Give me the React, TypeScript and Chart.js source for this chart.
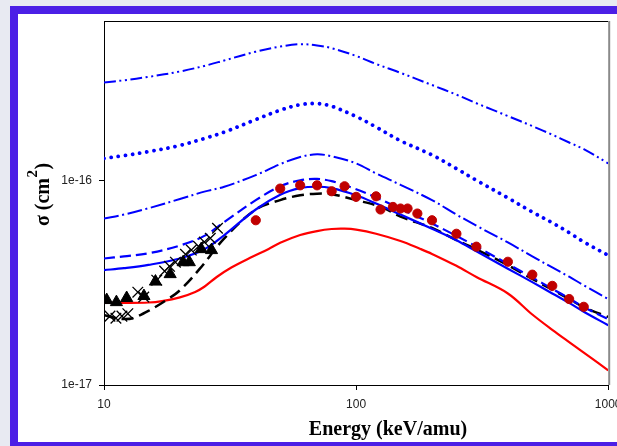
import React, { useEffect, useRef } from "react";
import { Chart, registerables } from "chart.js";

Chart.register(...registerables);

// Cross sections are listed in units of 1e-16 cm^2; energies in keV/amu.
const UNIT = 1e-16;

const curveEnergies = [10, 12, 15, 20, 25, 30, 40, 50, 60, 70, 80, 100, 120, 150, 200, 250, 300, 400, 500, 600, 700, 800, 1000];
const sigmaDashDotDot = [3.0, 3.08, 3.2, 3.4, 3.62, 3.85, 4.25, 4.5, 4.62, 4.56, 4.42, 4.05, 3.7, 3.35, 2.92, 2.62, 2.38, 2.06, 1.84, 1.67, 1.53, 1.42, 1.21];
const sigmaDotted = [1.28, 1.32, 1.38, 1.48, 1.6, 1.72, 1.98, 2.2, 2.34, 2.37, 2.3, 2.05, 1.82, 1.56, 1.33, 1.14, 1.0, 0.82, 0.7, 0.62, 0.555, 0.5, 0.43];
const sigmaDashDot = [0.65, 0.68, 0.73, 0.81, 0.88, 0.93, 1.06, 1.2, 1.3, 1.34, 1.31, 1.21, 1.08, 0.95, 0.8, 0.68, 0.6, 0.497, 0.425, 0.375, 0.338, 0.307, 0.263];
const sigmaDashed = [0.415, 0.425, 0.44, 0.48, 0.535, 0.625, 0.8, 0.935, 1.0, 1.015, 0.99, 0.905, 0.825, 0.725, 0.615, 0.535, 0.475, 0.39, 0.335, 0.295, 0.265, 0.24, 0.21];
const sigmaSolid = [0.364, 0.372, 0.386, 0.415, 0.46, 0.54, 0.72, 0.85, 0.915, 0.93, 0.915, 0.845, 0.77, 0.68, 0.58, 0.51, 0.45, 0.37, 0.318, 0.28, 0.252, 0.228, 0.196];

const blackEnergies = [10, 11, 12, 13, 15, 17.7, 20, 24, 30, 40, 50, 60, 70, 80, 100, 126, 150, 200, 250, 300, 400, 500, 600, 700, 800, 1000];
const sigmaBlackDashed = [0.22, 0.213, 0.21, 0.212, 0.23, 0.26, 0.29, 0.37, 0.52, 0.72, 0.8, 0.845, 0.86, 0.855, 0.8, 0.74, 0.665, 0.585, 0.51, 0.46, 0.385, 0.33, 0.292, 0.263, 0.24, 0.215];

const redEnergies = [10, 12, 15, 17, 20, 23, 25, 28, 32, 38, 45, 50, 60, 70, 80, 90, 100, 120, 150, 180, 200, 250, 300, 400, 500, 600, 700, 800, 1000];
const sigmaRed = [0.252, 0.252, 0.253, 0.257, 0.268, 0.285, 0.302, 0.337, 0.375, 0.418, 0.462, 0.495, 0.54, 0.565, 0.578, 0.58, 0.574, 0.548, 0.505, 0.462, 0.437, 0.382, 0.337, 0.28, 0.221, 0.186, 0.162, 0.144, 0.118];

const triangleEnergies = [10.25, 11.2, 12.3, 14.4, 16.0, 18.3, 20.6, 21.8, 24.3, 26.7];
const triangleSigma = [0.26, 0.254, 0.266, 0.272, 0.32, 0.348, 0.398, 0.398, 0.461, 0.456];

const crossEnergies = [10.56, 11.15, 11.78, 12.43, 13.62, 14.38, 16.19, 17.4, 18.2, 19.2, 21.05, 22.2, 23.7, 25.0, 26.4, 28.2];
const crossSigma = [0.217, 0.212, 0.217, 0.223, 0.284, 0.269, 0.325, 0.36, 0.38, 0.398, 0.435, 0.456, 0.476, 0.499, 0.521, 0.583];

const circleEnergies = [40, 50, 60, 70, 80, 90, 100, 120, 125, 140, 150, 160, 175, 200, 250, 300, 400, 500, 600, 700, 800];
const circleSigma = [0.638, 0.911, 0.945, 0.945, 0.884, 0.935, 0.83, 0.835, 0.72, 0.741, 0.728, 0.728, 0.688, 0.638, 0.548, 0.474, 0.4, 0.346, 0.305, 0.263, 0.241];

const xTickValues = [10, 100, 1000];
const xTickLabels = ["10", "100", "1000"];
const yTickValues = [1e-17, 1e-16];
const yTickLabels = ["1e-17", "1e-16"];

const xTitle = "Energy (keV/amu)";
const yTitleMain = "σ (cm";
const yTitleSup = "2";
const yTitleClose = ")";

const BLUE = "#0000ff";
const RED = "#ff0000";
const DARK_RED = "#c00000";
const SERIF = '"Liberation Serif", "Times New Roman", serif';
const SANS = '"Liberation Sans", Arial, sans-serif';

const toPoints = (xs: number[], ys: number[]) => xs.map((x, i) => ({ x, y: ys[i] * UNIT }));

const lineSet = (
  label: string,
  xs: number[],
  ys: number[],
  color: string,
  width: number,
  dash: number[],
  cap: CanvasLineCap = "butt"
) => ({
  type: "line" as const,
  label,
  data: toPoints(xs, ys),
  borderColor: color,
  backgroundColor: color,
  borderWidth: width,
  borderDash: dash,
  borderCapStyle: cap,
  borderJoinStyle: "round" as const,
  pointRadius: 0,
  pointHoverRadius: 0,
  fill: false,
  tension: 0.35,
  order: 2,
});

const markerSet = (label: string, xs: number[], ys: number[], style: any, radius: number, fill: string, stroke: string, width: number) => ({
  type: "line" as const,
  label,
  data: toPoints(xs, ys),
  showLine: false,
  pointStyle: style,
  pointRadius: radius,
  pointHoverRadius: radius,
  pointBackgroundColor: fill,
  pointBorderColor: stroke,
  pointBorderWidth: width,
  borderColor: stroke,
  backgroundColor: fill,
  order: 0,
});

// Plot frame (top and right edges) and axis titles
const framePlugin = {
  id: "frameAndTitles",
  afterDraw(chart: any) {
    const { ctx, chartArea: a } = chart;
    ctx.save();
    ctx.strokeStyle = "#000";
    ctx.lineWidth = 1;
    ctx.beginPath();
    ctx.moveTo(a.left, Math.round(a.top) + 0.5);
    ctx.lineTo(a.right, Math.round(a.top) + 0.5);
    ctx.stroke();

    ctx.strokeStyle = "#8a8a8a";
    ctx.lineWidth = 2;
    ctx.beginPath();
    ctx.moveTo(a.right + 1, a.top);
    ctx.lineTo(a.right + 1, a.bottom);
    ctx.stroke();

    ctx.fillStyle = "#000";
    ctx.font = `bold 20px ${SERIF}`;
    ctx.textAlign = "center";
    ctx.textBaseline = "alphabetic";
    ctx.fillText(xTitle, 388, 435);

    ctx.translate(49, 195);
    ctx.rotate(-Math.PI / 2);
    ctx.textAlign = "left";
    ctx.font = `bold 20px ${SERIF}`;
    const w1 = ctx.measureText(yTitleMain).width;
    const w3 = ctx.measureText(yTitleClose).width;
    ctx.font = `bold 15px ${SERIF}`;
    const w2 = ctx.measureText(yTitleSup).width;
    const x0 = -(w1 + w2 + w3) / 2;
    ctx.font = `bold 20px ${SERIF}`;
    ctx.fillText(yTitleMain, x0, 0);
    ctx.fillText(yTitleClose, x0 + w1 + w2 + 1, 0);
    ctx.font = `bold 15px ${SERIF}`;
    ctx.fillText(yTitleSup, x0 + w1 + 0.5, -12);
    ctx.restore();
  },
};

export default function App() {
  const canvasRef = useRef<HTMLCanvasElement | null>(null);

  useEffect(() => {
    const canvas = canvasRef.current;
    if (!canvas) return;

    const datasets: any[] = [
      markerSet("circles", circleEnergies, circleSigma, "circle", 4.6, DARK_RED, DARK_RED, 1),
      markerSet("triangles", triangleEnergies, triangleSigma, "triangle", 7, "#000", "#000", 1),
      markerSet("crosses", crossEnergies, crossSigma, "crossRot", 7.5, "#000", "#000", 1.3),
      lineSet("dash-dot-dot", curveEnergies, sigmaDashDotDot, BLUE, 2, [12, 3.5, 2, 3.5, 2, 3.5]),
      lineSet("dotted", curveEnergies, sigmaDotted, BLUE, 3.8, [0.01, 7.2], "round"),
      lineSet("dash-dot", curveEnergies, sigmaDashDot, BLUE, 2, [15, 3.5, 2, 3.5]),
      lineSet("dashed", curveEnergies, sigmaDashed, BLUE, 2.2, [11, 5]),
      lineSet("solid", curveEnergies, sigmaSolid, BLUE, 2.2, []),
      lineSet("black dashed", blackEnergies, sigmaBlackDashed, "#000", 2.5, [12, 6]),
      lineSet("red", redEnergies, sigmaRed, RED, 2.2, []),
    ];

    const axisCommon = {
      type: "logarithmic" as const,
      grid: { drawOnChartArea: false, drawTicks: true, tickLength: 5, color: "#000", lineWidth: 1 },
      border: { display: true, color: "#000", width: 1 },
    };

    const chart = new Chart(canvas, {
      type: "line",
      data: { datasets },
      plugins: [framePlugin],
      options: {
        responsive: false,
        animation: false,
        devicePixelRatio: 1,
        events: [],
        layout: { padding: { left: 0, right: 6, top: 21, bottom: 0 } },
        plugins: { legend: { display: false }, tooltip: { enabled: false } },
        scales: {
          x: {
            ...axisCommon,
            position: "bottom",
            min: 10,
            max: 1000,
            ticks: {
              autoSkip: false,
              maxRotation: 0,
              padding: 7,
              color: "#222",
              font: { family: SANS, size: 12 },
              callback: (_v: any, i: number) => xTickLabels[i],
            },
            afterBuildTicks: (s: any) => {
              s.ticks = xTickValues.map((value) => ({ value }));
            },
            afterFit: (s: any) => {
              s.height = 61;
              s.paddingLeft = 0;
              s.paddingRight = 0;
            },
          },
          y: {
            ...axisCommon,
            position: "left",
            min: 1e-17,
            max: 6e-16,
            ticks: {
              autoSkip: false,
              padding: 7,
              color: "#222",
              font: { family: SANS, size: 12 },
              callback: (_v: any, i: number) => yTickLabels[i],
            },
            afterBuildTicks: (s: any) => {
              s.ticks = yTickValues.map((value) => ({ value }));
            },
            afterFit: (s: any) => {
              s.width = 104;
              s.paddingTop = 0;
              s.paddingBottom = 0;
            },
          },
        },
      } as any,
    });

    return () => chart.destroy();
  }, []);

  return (
    <div
      style={{
        position: "fixed",
        left: 0,
        top: 0,
        width: 617,
        height: 446,
        overflow: "hidden",
        background: "#e8eaf2",
      }}
    >
      <div
        style={{
          position: "absolute",
          left: 10,
          top: 6,
          width: 700,
          height: 444,
          border: "8px solid #4b1fe6",
          boxSizing: "border-box",
          background: "#ffffff",
        }}
      />
      <canvas
        ref={canvasRef}
        width={617}
        height={446}
        style={{ position: "absolute", left: 0, top: 0, width: 617, height: 446 }}
      />
    </div>
  );
}
